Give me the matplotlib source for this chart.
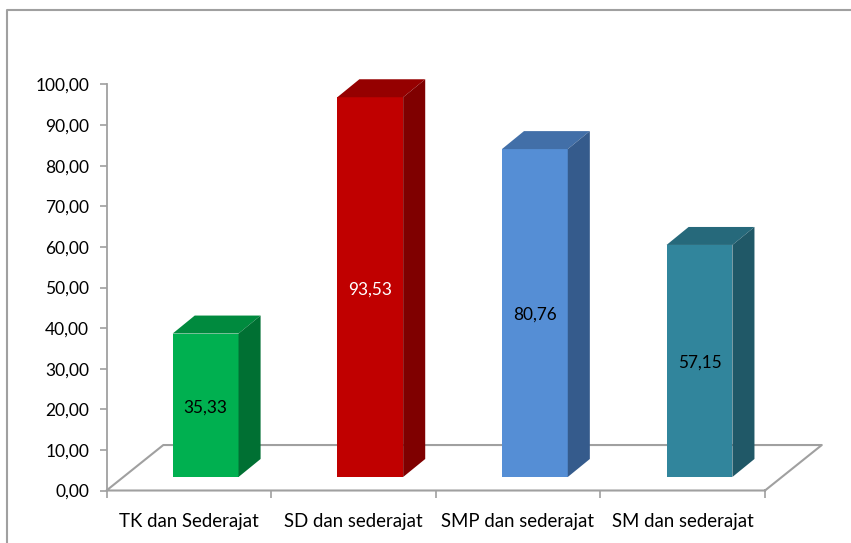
import matplotlib
matplotlib.use('Agg')
import matplotlib.pyplot as plt
from matplotlib.patches import Polygon

plt.rcParams['font.family'] = ['Lato', 'DejaVu Sans']

# data
categories = ['TK dan Sederajat', 'SD dan sederajat', 'SMP dan sederajat', 'SM dan sederajat']
values = [35.33, 93.53, 80.76, 57.15]
value_labels = ['35,33', '93,53', '80,76', '57,15']
y_ticks = [0, 10, 20, 30, 40, 50, 60, 70, 80, 90, 100]
y_tick_labels = ['0,00', '10,00', '20,00', '30,00', '40,00', '50,00', '60,00', '70,00', '80,00', '90,00', '100,00']

# front, top, side colours
front_colors = ['#00b050', '#c00000', '#558ed5', '#31859c']
top_colors = ['#008a3e', '#950000', '#426fa8', '#26697b']
side_colors = ['#007033', '#7f0000', '#355b8c', '#205867']
label_colors = ['black', 'white', 'black', 'black']

W, H = 851, 543
grey = '#a0a0a0'

fig = plt.figure(figsize=(W / 100, H / 100), dpi=100)
ax = fig.add_axes([106.5 / W, 1 - 490.5 / H, 658.5 / W, 406 / H])
ax.set_xlim(0, 4)
ax.set_ylim(0, 100)
ax.patch.set_visible(False)

# outer frame of the chart, only left and top are inside the picture
fig.add_artist(plt.Line2D([7 / W, 7 / W, 1], [0, 1 - 10 / H, 1 - 10 / H], transform=fig.transFigure,
                          color=grey, linewidth=1.5))

for s in ['top', 'right', 'bottom']:
    ax.spines[s].set_visible(False)
ax.spines['left'].set_color(grey)
ax.spines['left'].set_linewidth(1.3)

# floor, drawn as open parallelogram
floor_dx = 0.345
floor_dy = 11.2
ax.plot([4, 0, floor_dx, 4 + floor_dx, 4], [0, 0, floor_dy, floor_dy, 0],
        color=grey, linewidth=1.5, clip_on=False, zorder=1)

# bars
bar_w = 0.4
base = 3.33
dx = 0.134
dy = 4.43
for i, v in enumerate(values):
    x0 = i + 0.402
    x1 = x0 + bar_w
    top = base + v
    ax.add_patch(Polygon([(x0, base), (x1, base), (x1, top), (x0, top)], color=front_colors[i], lw=0, zorder=3))
    ax.add_patch(Polygon([(x0, top), (x1, top), (x1 + dx, top + dy), (x0 + dx, top + dy)],
                         color=top_colors[i], lw=0, zorder=3, clip_on=False))
    ax.add_patch(Polygon([(x1, base), (x1 + dx, base + dy), (x1 + dx, top + dy), (x1, top)],
                         color=side_colors[i], lw=0, zorder=3, clip_on=False))
    ax.annotate(value_labels[i], (x0 + bar_w / 2, base + v / 2), xytext=(0, -1.5), textcoords='offset points',
                ha='center', va='center', fontsize=12.4, color=label_colors[i], zorder=4)

ax.set_yticks(y_ticks)
ax.set_yticklabels(y_tick_labels, fontsize=12.5, color='black')
ax.tick_params(axis='y', color=grey, length=5, width=1.2, pad=7.5)

# ticks between categories, names centred on each slot
ax.set_xticks([0, 1, 2, 3, 4])
ax.set_xticklabels([])
ax.tick_params(axis='x', color=grey, length=5, width=1.2)
for i, c in enumerate(categories):
    ax.annotate(c, (i + 0.5, 0), xytext=(-0.2, -16), textcoords='offset points',
                ha='center', va='top', fontsize=13.4, color='black')

fig.savefig('out.png', dpi=100)
